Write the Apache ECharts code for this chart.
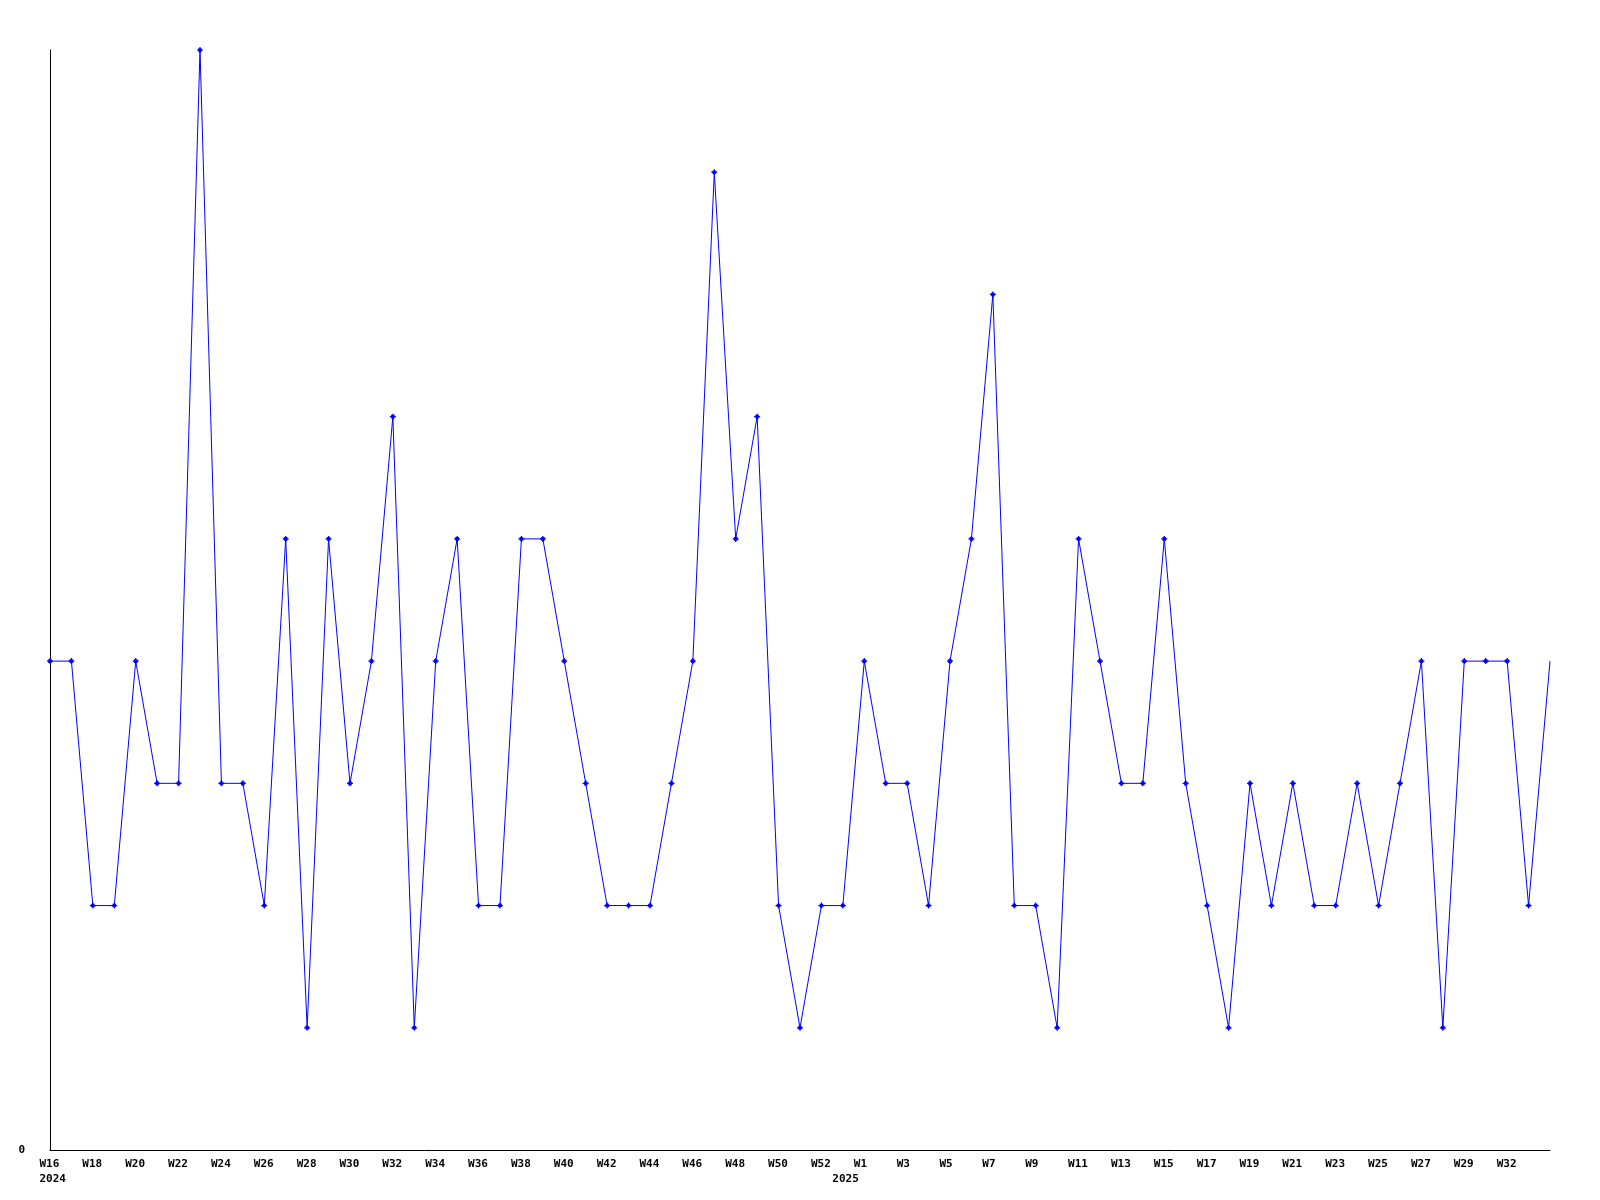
<!DOCTYPE html>
<html>
<head>
<meta charset="utf-8">
<script src="https://cdn.jsdelivr.net/npm/echarts@6/dist/echarts.min.js"></script>
<style>
html,body{margin:0;padding:0;background:#fff;}
#chart{width:1600px;height:1200px;}
</style>
</head>
<body>
<div id="chart"></div>
<script>
const weeks = ['W16','W17','W18','W19','W20','W21','W22','W23','W24','W25','W26','W27','W28','W29','W30','W31','W32','W33','W34','W35','W36','W37','W38','W39','W40','W41','W42','W43','W44','W45','W46','W47','W48','W49','W50','W51','W52','W53',
 'W1','W2','W3','W4','W5','W6','W7','W8','W9','W10','W11','W12','W13','W14','W15','W16','W17','W18','W19','W20','W21','W22','W23','W24','W25','W26','W27','W28','W29','W31','W32','W33','W34'];
const values = [4,4,2,2,4,3,3,9,3,3,2,5,1,5,3,4,6,1,4,5,2,2,5,5,4,3,2,2,2,3,4,8,5,6,2,1,2,2,
 4,3,3,2,4,5,7,2,2,1,5,4,3,3,5,3,2,1,3,2,3,2,2,3,2,3,4,1,4,4,4,2,4];
// year labels drawn under these category indices
const yearIndex = [0, 37];
const yearLabels = ['2024', '2025'];

const seriesData = values.map((v, i) => i === values.length - 1 ? {value: v, symbol: 'none'} : v);

const chart = echarts.init(document.getElementById('chart'), null, {renderer: 'canvas'});
const font = {fontFamily: 'DejaVu Sans Mono', fontWeight: 'bold', fontSize: 11, color: '#000'};
const showWeek = (i) => i % 2 === 0 && i < values.length - 1;
chart.setOption({
  animation: false,
  backgroundColor: '#fff',
  grid: {left: 50, right: 50, top: 50, bottom: 50, containLabel: false},
  xAxis: {
    type: 'category',
    data: weeks,
    boundaryGap: false,
    axisLine: {show: true, lineStyle: {color: '#000', width: 1}},
    axisTick: {show: false},
    splitLine: {show: false},
    axisLabel: Object.assign({
      margin: 7,
      lineHeight: 15,
      hideOverlap: false,
      interval: (i) => showWeek(i) || yearIndex.indexOf(i) >= 0,
      formatter: (v, i) => {
        const k = yearIndex.indexOf(i);
        const first = showWeek(i) ? '{w|' + v + '}' : '{w|}';
        return k >= 0 ? first + '\n{w|' + yearLabels[k] + '}' : first;
      },
      rich: {
        w: Object.assign({lineHeight: 15, width: 21, align: 'left'}, font)
      }
    }, font)
  },
  yAxis: {
    type: 'value',
    min: 0, max: 9, interval: 9,
    axisLine: {show: true, lineStyle: {color: '#000', width: 1}},
    axisTick: {show: false},
    splitLine: {show: false},
    axisLabel: Object.assign({
      margin: 25,
      formatter: (v) => v === 0 ? '0' : ''
    }, font)
  },
  series: [{
    type: 'line',
    data: seriesData,
    symbol: 'path://M2,0H3V1H4V2H5V3H4V4H3V5H2V4H1V3H0V2H1V1H2Z',
    symbolSize: 6,
    showAllSymbol: true,
    lineStyle: {color: '#0000ff', width: 1},
    itemStyle: {color: '#0000ff'},
    emphasis: {disabled: true}
  }]
});
</script>
</body>
</html>
